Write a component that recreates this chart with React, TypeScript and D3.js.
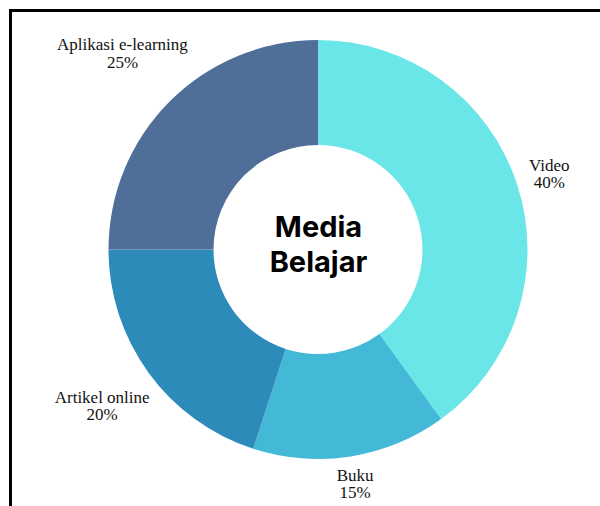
import React, { useEffect, useRef } from "react";
import * as d3 from "d3";

const categories = ["Video", "Buku", "Artikel online", "Aplikasi e-learning"];
const values = [40, 15, 20, 25];
const colors = ["#6ae6e8", "#43b8d7", "#2d8bba", "#4f6f99"];
const centerLines = ["Media", "Belajar"];

const W = 600;
const H = 506;

export default function App() {
  const ref = useRef<SVGSVGElement | null>(null);

  useEffect(() => {
    const svg = d3.select(ref.current);
    svg.selectAll("*").remove();

    // frame
    svg
      .append("path")
      .attr("d", `M10.5,${H + 5} L10.5,10.5 L${W + 5},10.5`)
      .attr("fill", "none")
      .attr("stroke", "#000")
      .attr("stroke-width", 3);

    const cx = 318;
    const cy = 249.5;
    const outerR = 209.5;
    const innerR = 104.5;
    const labelGap = 219;

    const data = categories.map((c, i) => ({ name: c, value: values[i], color: colors[i] }));
    const pie = d3
      .pie<any>()
      .value((d: any) => d.value)
      .sort(null);
    const arcs = pie(data);
    const arc = d3.arc<any>().innerRadius(innerR).outerRadius(outerR);

    const g = svg.append("g").attr("transform", `translate(${cx},${cy})`);
    g.selectAll("path.slice")
      .data(arcs)
      .enter()
      .append("path")
      .attr("class", "slice")
      .attr("d", arc as any)
      .attr("fill", (d: any) => d.data.color);

    const fs = 17;
    const lh = 17.5;
    arcs.forEach((a: any) => {
      const mid = (a.startAngle + a.endAngle) / 2;
      const ux = Math.sin(mid);
      const uy = -Math.cos(mid);
      const t = g
        .append("text")
        .attr("font-family", "'Liberation Serif', 'Times New Roman', serif")
        .attr("font-size", fs)
        .attr("fill", "#111")
        .attr("text-anchor", "middle");
      const l1 = t.append("tspan").text(a.data.name);
      const l2 = t.append("tspan").text(`${a.data.value}%`);
      const w = Math.max(
        (l1.node() as any).getComputedTextLength(),
        (l2.node() as any).getComputedTextLength()
      );
      const hh = 16;
      const dist = labelGap + Math.abs(ux) * (w / 2) + Math.abs(uy) * hh;
      const x = ux * dist;
      const y = uy * dist + 5;
      l1.attr("x", x).attr("y", y - lh / 2);
      l2.attr("x", x).attr("y", y + lh / 2);
    });

    const ct = g
      .append("text")
      .attr("font-family", "Inter, 'Noto Sans', sans-serif")
      .attr("font-weight", 700)
      .attr("font-size", 29)
      .attr("fill", "#000")
      .attr("text-anchor", "middle");
    centerLines.forEach((s, i) => {
      ct.append("tspan")
        .attr("x", 0.5)
        .attr("y", -13 + i * 35)
        .text(s);
    });
  }, []);

  return (
    <svg
      ref={ref}
      width={W}
      height={H}
      style={{ position: "absolute", left: 0, top: 0, background: "#fff" }}
    />
  );
}
